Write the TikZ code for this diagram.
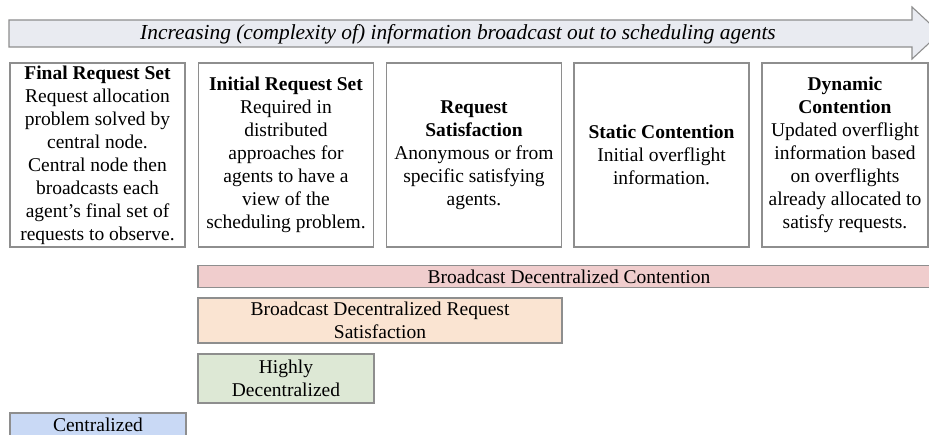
\documentclass[tikz,border=0pt]{standalone}
\usepackage{fontspec}
\setmainfont{Liberation Serif}
\definecolor{arrowfill}{HTML}{E9EBF1}
\definecolor{edgegray}{HTML}{8E8E8E}
\definecolor{pinkfill}{HTML}{F0CDCD}
\definecolor{orangefill}{HTML}{FAE4D2}
\definecolor{greenfill}{HTML}{DDE8D5}
\definecolor{bluefill}{HTML}{C9D9F5}
\tikzset{
  infobox/.style={draw=edgegray, line width=1.1pt, fill=white, inner sep=0pt,
    minimum width=175pt, minimum height=184pt, align=center,
    font=\fontsize{19.5}{23}\selectfont},
  bar/.style={draw=edgegray, line width=1.1pt, inner sep=0pt, align=center,
    font=\fontsize{19.5}{23}\selectfont},
}
\begin{document}
\begin{tikzpicture}[x=1pt,y=-1pt]
\useasboundingbox (0,0) rectangle (929,435);
% top arrow
\draw[draw=edgegray, fill=arrowfill, line width=1.1pt]
  (9,20) -- (912,20) -- (912,7) -- (940,33) -- (912,59) -- (912,47) -- (9,47) -- cycle;
\node[font=\fontsize{21.4}{25}\selectfont\itshape] (title) at (458,34)
  {Increasing (complexity of) information broadcast out to scheduling agents};
% info boxes
\node[infobox] (final) at (97.5,155)
  {\textbf{Final Request Set}\\Request allocation\\problem solved by\\central node.\\Central node then\\broadcasts each\\agent’s final set of\\requests to observe.};
\node[infobox] (initial) at (286,155)
  {\textbf{Initial Request Set}\\Required in\\distributed\\approaches for\\agents to have a\\view of the\\scheduling problem.};
\node[infobox] (reqsat) at (474,155)
  {\textbf{Request}\\\textbf{Satisfaction}\\Anonymous or from\\specific satisfying\\agents.};
\node[infobox] (static) at (661.5,155)
  {\textbf{Static Contention}\\Initial overflight\\information.};
\node[infobox, minimum width=166pt] (dynamic) at (845,155)
  {\textbf{Dynamic}\\\textbf{Contention}\\Updated overflight\\information based\\on overflights\\already allocated to\\satisfy requests.};
% bars
\node[bar, fill=pinkfill, minimum width=742pt, minimum height=22pt] (bdc) at (569,276.5)
  {Broadcast Decentralized Contention};
\node[bar, fill=orangefill, minimum width=364pt, minimum height=45pt] (bdrs) at (380,320.5)
  {Broadcast Decentralized Request\\Satisfaction};
\node[bar, fill=greenfill, minimum width=176pt, minimum height=49pt] (hd) at (286,378.5)
  {Highly\\Decentralized};
\node[bar, fill=bluefill, minimum width=176pt, minimum height=24pt] (cent) at (98,425)
  {Centralized};
\end{tikzpicture}
\end{document}
